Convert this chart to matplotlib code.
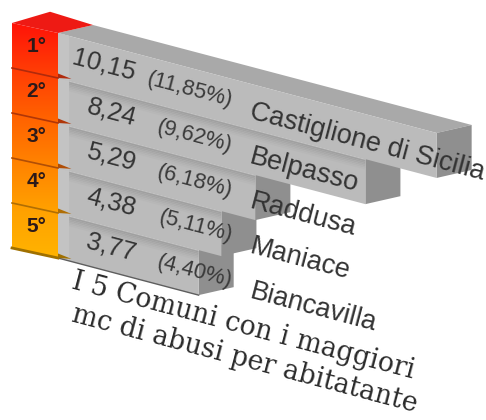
import matplotlib
matplotlib.use("Agg")
import matplotlib.pyplot as plt
import numpy as np
from matplotlib.patches import Polygon
from matplotlib.transforms import Affine2D
from matplotlib.colors import LinearSegmentedColormap

ranks = ["1°", "2°", "3°", "4°", "5°"]
values = [10.15, 8.24, 5.29, 4.38, 3.77]
value_labels = ["10,15", "8,24", "5,29", "4,38", "3,77"]
share_labels = ["(11,85%)", "(9,62%)", "(6,18%)", "(5,11%)", "(4,40%)"]
towns = ["Castiglione di Sicilia", "Belpasso", "Raddusa", "Maniace", "Biancavilla"]
caption = ["I 5 Comuni con i maggiori", "mc di abusi per abitatante"]

fig = plt.figure(figsize=(4.86, 4.20), dpi=100)
ax = fig.add_axes([0, 0, 1, 1])
ax.set_xlim(0, 486)
ax.set_ylim(420, 0)
ax.axis("off")

# oblique axes: x = bar value, y = row index
UX, SLOPE, ROW = 37.3, 0.264, 45
obl = Affine2D(np.array([[UX, 0, 58], [UX * SLOPE, ROW, 33], [0, 0, 1]])) + ax.transData
DEPTH = np.array([0.94, -0.383])
SIDE = np.array([-1.233, 0.0476])
TXT_ROT = -14.8


def poly(points, color, z, **kw):
    ax.add_patch(Polygon(points, closed=True, facecolor=color, edgecolor="none",
                         linewidth=0, transform=obl, zorder=z, **kw))


n = len(values)
shade = ["#a0a0a0", "#a4a4a4", "#a9a9a9", "#aeaeae", "#b3b3b3", "#b7b7b7"]
# bars, painted last row first so upper rows overlap lower ones
for i in range(n - 1, -1, -1):
    v = values[i]
    z = 10 + (n - i) * 2
    a, b = np.array([0, i]), np.array([v, i])
    c, d = np.array([v, i + 1]), np.array([0, i + 1])
    poly([a, a + DEPTH, b + DEPTH, b], "#a9a9a9", z)
    poly([b, b + DEPTH, c + DEPTH, c], "#8f8f8f", z)
    poly([a, b, c, d], "#bbbbbb", z)
    poly([a, [0.3, i], [0.3, i + 1], d], "#c3c3c3", z)
    if i > 0:
        for k, col in enumerate(shade):
            y0, y1 = i + 0.02 + k * 0.035, i + 0.02 + (k + 1) * 0.035
            poly([[0.3, y0], [v, y0], [v, y1], [0.3, y1]], col, z)
    if i == n - 1:
        ax.plot([0, v], [i + 1, i + 1], color="#5e5e5e", lw=1.0, transform=obl, zorder=z)

# left coloured panel
cmap = LinearSegmentedColormap.from_list("rank", ["#ff1208", "#ff3c05", "#ff6200", "#ff8400", "#ffa200", "#ffb400"])
panel = Polygon([np.array([0, 0]) + SIDE, [0, 0], [0, n], np.array([0, n]) + SIDE], closed=True, transform=obl)
ax.add_patch(Polygon(panel.get_xy(), closed=True, facecolor="none", edgecolor="none", transform=obl))
grad = np.linspace(0, 1, 256).reshape(-1, 1)
im = ax.imshow(grad, cmap=cmap, extent=(12, 58, 260, 22), aspect="auto", zorder=40)
im.set_clip_path(panel)
ax.set_xlim(0, 486)
ax.set_ylim(420, 0)
poly([[0, 0], SIDE, SIDE + DEPTH + np.array([0.08, -0.09]), DEPTH], "#ee1a14", 41)

sep_cols = ["#b02a0c", "#b03608", "#b04e06", "#b06e04", "#a07000"]
for i in range(n):
    y = i + 1
    lo, hi = np.array([0, y]) + SIDE, np.array([0, y])
    ax.plot([lo[0], hi[0]], [lo[1], hi[1]], color=sep_cols[i], lw=1.2 if i < n - 1 else 2.0,
            transform=obl, zorder=42)
    poly([[0, y - 0.10], [0.36, y - 0.06], [0, y]], sep_cols[i], 42)
    ax.text(-0.58, i + 0.42, ranks[i], fontsize=15, fontweight="bold", color="#2c1a1a",
            family="Liberation Sans", ha="center", va="center", transform=obl, zorder=45)

# labels
for i in range(n):
    ax.text(2.08, i + 0.44, value_labels[i], fontsize=18.5, color="#333333", family="Liberation Sans",
            rotation=TXT_ROT, rotation_mode="anchor", ha="right", va="center", transform=obl, zorder=50)
    ax.text(4.66, i + 0.50, share_labels[i], fontsize=15.8, color="#3a3a3a", family="Liberation Sans",
            rotation=TXT_ROT, rotation_mode="anchor", ha="right", va="center", transform=obl, zorder=50)
    ax.text(5.15, i + 0.62, towns[i], fontsize=19.5, color="#333333", family="Liberation Sans",
            rotation=TXT_ROT, rotation_mode="anchor", ha="left", va="center", transform=obl, zorder=50)

for j, line in enumerate(caption):
    ax.text(0.4, 5.42 + j * 0.74, line, fontsize=19.2, color="#2a2a2a", family="DejaVu Serif",
            rotation=TXT_ROT, rotation_mode="anchor", ha="left", va="center", transform=obl, zorder=50)

fig.savefig("out.png", dpi=100)
